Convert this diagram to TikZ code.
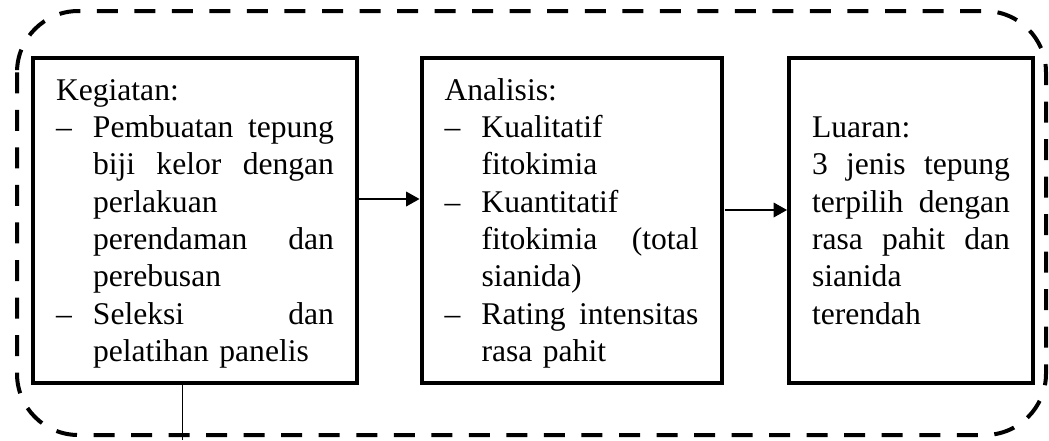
\documentclass[tikz,border=0pt]{standalone}
\usepackage{fontspec}
\setmainfont{Liberation Serif}
\usetikzlibrary{arrows.meta,calc}
\newcommand{\itm}[1]{\makebox[27.75pt][l]{–}#1}
\newcommand{\ind}[1]{\hspace*{27.75pt}#1}
\newcommand{\jst}[2]{\makebox[#1][l]{#2}}
\begin{document}
\begin{tikzpicture}[x=0.75pt,y=-0.75pt,
  stagebox/.style={draw, line width=3pt, inner xsep=17.25pt, inner ysep=0pt,
    minimum height=243.75pt, align=left, font=\fontsize{23.7}{28}\selectfont},
  flowarr/.style={line width=1pt, -{Triangle[length=10pt,width=11pt]}},
  frameline/.style={line width=3pt, dash pattern=on 15.75pt off 12.4pt, rounded corners=46pt}]
\useasboundingbox (0,0) rectangle (1049,440);
\draw[frameline] (17,11) rectangle (1046,435);
\node[stagebox, text width=208.5pt] (b1) at (195,220.5) {%
\rule{0pt}{20.35pt}Kegiatan:\\
\itm{\jst{180.75pt}{Pembuatan\hfill tepung}}\\
\ind{\jst{180.75pt}{biji\hfill kelor\hfill dengan}}\\
\ind{perlakuan}\\
\ind{\jst{180.75pt}{perendaman\hfill dan}}\\
\ind{perebusan}\\
\itm{\jst{180.75pt}{Seleksi\hfill dan}}\\
\ind{pelatihan panelis}};
\node[stagebox, text width=190.5pt] (b2) at (571.5,220.5) {%
\rule{0pt}{20.35pt}Analisis:\\
\itm{Kualitatif}\\
\ind{fitokimia}\\
\itm{Kuantitatif}\\
\ind{\jst{162.75pt}{fitokimia\hfill (total}}\\
\ind{sianida)}\\
\itm{\jst{162.75pt}{Rating\hfill intensitas}}\\
\ind{rasa pahit}};
\node[stagebox, text width=148.5pt] (b3) at (911,220.5) {%
Luaran:\\
\jst{148.5pt}{3\hfill jenis\hfill tepung}\\
\jst{148.5pt}{terpilih\hfill dengan}\\
\jst{148.5pt}{rasa\hfill pahit\hfill dan}\\
sianida\\
terendah};
\draw[flowarr] ($(b1.east)+(0,-21.5)$) -- ($(b2.west)+(0,-21.5)$);
\draw[flowarr] ($(b2.east)+(1,-10.5)$) -- ($(b3.west)+(0,-10.5)$);
\coordinate (vend) at (182.7,440);
\draw[line width=1.1pt] (b1.south -| vend) -- (vend);
\end{tikzpicture}
\end{document}
